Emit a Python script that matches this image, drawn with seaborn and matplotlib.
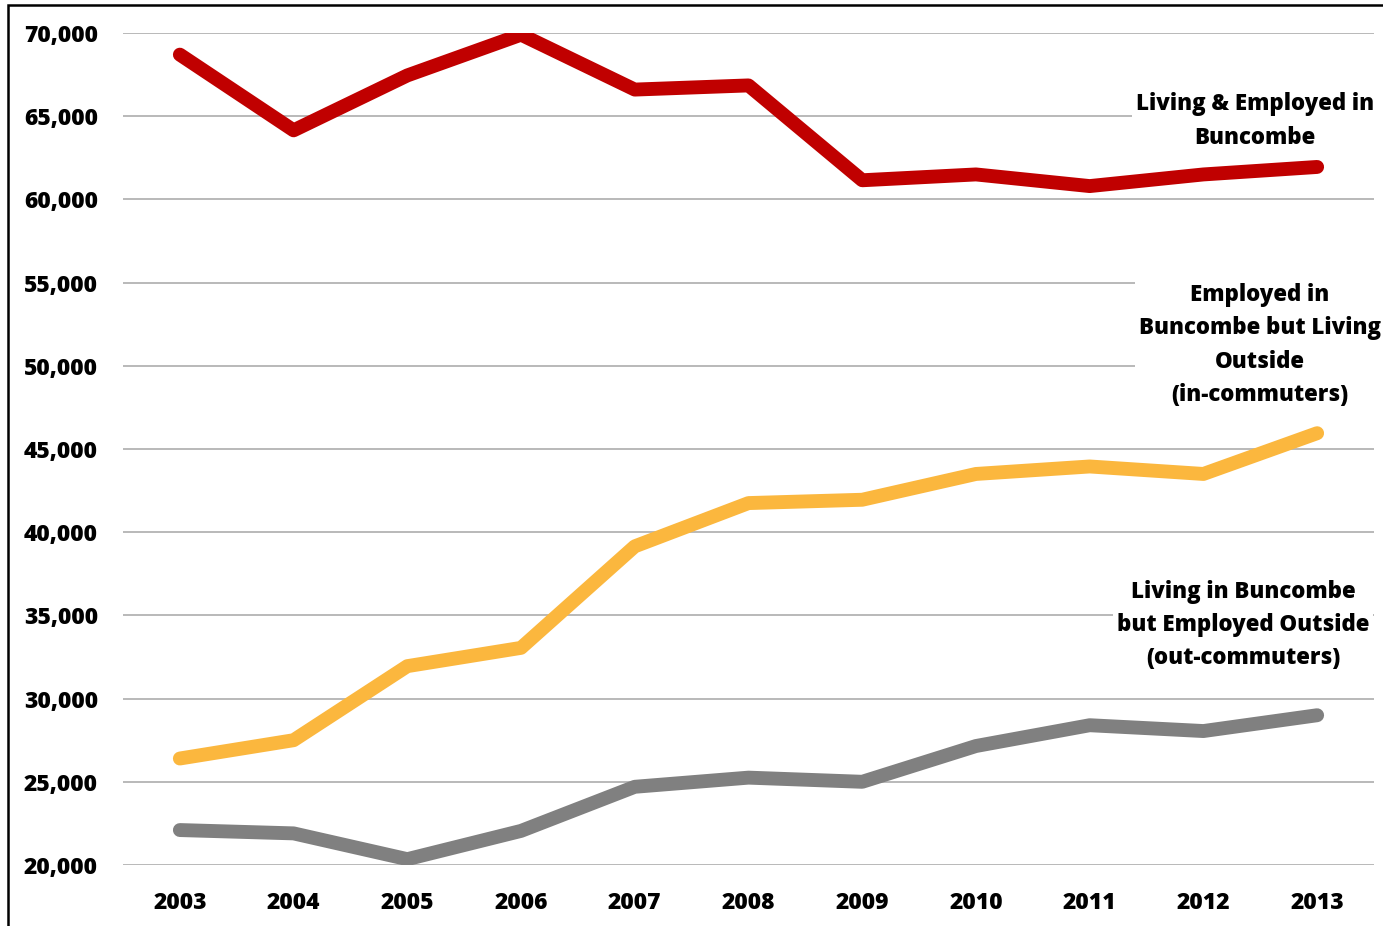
import matplotlib
matplotlib.use("Agg")
import matplotlib.pyplot as plt
import seaborn as sns
import pandas as pd
from matplotlib.patches import Rectangle

years = ["2003", "2004", "2005", "2006", "2007", "2008", "2009", "2010", "2011", "2012", "2013"]
living_employed = [68700, 64150, 67450, 69900, 66600, 66850, 61150, 61500, 60800, 61500, 61950]
in_commuters = [26400, 27500, 31950, 33050, 39150, 41750, 41950, 43500, 43950, 43500, 45950]
out_commuters = [22100, 21900, 20350, 22050, 24700, 25250, 25000, 27150, 28400, 28050, 29000]
series_names = ["Living & Employed in Buncombe",
                "Employed in Buncombe but Living Outside (in-commuters)",
                "Living in Buncombe but Employed Outside (out-commuters)"]
yticks = [20000, 25000, 30000, 35000, 40000, 45000, 50000, 55000, 60000, 65000, 70000]

rows = []
for name, vals in zip(series_names, [living_employed, in_commuters, out_commuters]):
    for i, v in enumerate(vals):
        rows.append({"x": i, "year": years[i], "value": v, "series": name})
df = pd.DataFrame(rows)

sns.set_theme(style="white")
plt.rcParams['font.family'] = ['Open Sans', 'DejaVu Sans']
plt.rcParams['text.color'] = 'black'

FS_T = 16.5
FS = 16
FW = 800
fig = plt.figure(figsize=(13.83, 9.26), dpi=100)
ax = fig.add_axes([123/1383, 61/926, (1374-123)/1383, (865-33)/926])

for y in yticks:
    ax.axhline(y, color="#A6A6A6", lw=1.1, zorder=0)

palette = {series_names[0]: "#C00000", series_names[1]: "#FBB73E", series_names[2]: "#808080"}
sns.lineplot(data=df, x="x", y="value", hue="series", palette=palette, lw=10,
             legend=False, ax=ax, zorder=3, solid_capstyle="round", solid_joinstyle="round")

ax.set_xlim(-0.5, 10.5)
ax.set_ylim(20000, 70000)
ax.set_xticks(range(len(years)))
ax.set_xticklabels(years, fontsize=FS_T, fontweight=FW, color="black")
ax.set_yticks(yticks)
ax.set_yticklabels([f"{v:,}" for v in yticks], fontsize=FS_T, fontweight=FW, color="black")
ax.tick_params(axis="x", length=0, pad=19)
ax.tick_params(axis="y", length=0, pad=18)
ax.set_xlabel("")
ax.set_ylabel("")
for s in ax.spines.values():
    s.set_visible(False)

bbox = dict(facecolor="white", edgecolor="none", pad=3)
kw = dict(transform=fig.transFigure, ha="center", va="center", fontsize=FS, fontweight=FW,
          color="black", linespacing=1.52, bbox=bbox, zorder=4)
ax.text(1255/1383, 1 - 121/926, "Living & Employed in\nBuncombe", **kw)
ax.text(1260/1383, 1 - 345/926, "Employed in\nBuncombe but Living\nOutside\n(in-commuters)", **kw)
ax.text(1243/1383, 1 - 625/926, "Living in Buncombe\nbut Employed Outside\n(out-commuters)", **kw)

fig.patches.append(Rectangle((8/1383, -0.1), 1.2, 1 - 5/926 + 0.1, transform=fig.transFigure,
                             fill=False, edgecolor="black", lw=1.8, zorder=10))

fig.savefig("out.png", dpi=100, facecolor="white")
